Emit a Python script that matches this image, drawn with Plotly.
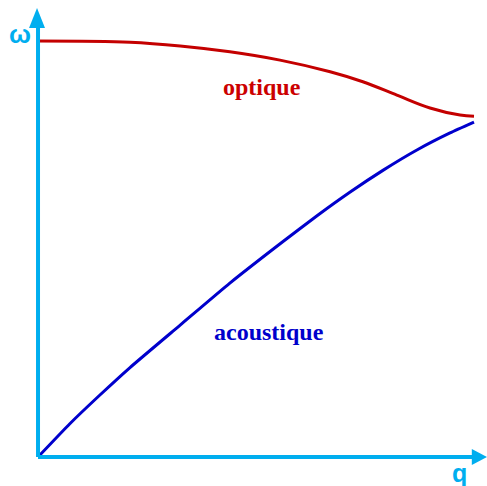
import plotly.graph_objects as go

# dispersion curves (q and omega normalised to 0..1)
q_optique = [0.0, 0.211, 0.326, 0.440, 0.555, 0.670, 0.745, 0.823, 0.899, 0.968, 1.0]
w_optique = [1.0, 0.997, 0.988, 0.974, 0.954, 0.926, 0.902, 0.870, 0.839, 0.822, 0.819]

q_acoustique = [0.0, 0.073, 0.142, 0.211, 0.326, 0.440, 0.562, 0.640, 0.716,
                0.791, 0.869, 0.945, 1.0]
w_acoustique = [0.0, 0.080, 0.149, 0.215, 0.317, 0.418, 0.518, 0.580, 0.637,
                0.689, 0.738, 0.779, 0.805]

AXIS_BLUE = '#00AEEF'
RED = '#C40000'
BLUE = '#0000CC'

fig = go.Figure()

fig.add_trace(go.Scatter(
    x=q_optique, y=w_optique, mode='lines',
    line=dict(color=RED, width=3, shape='spline', smoothing=1.0),
    hoverinfo='skip'
))
fig.add_trace(go.Scatter(
    x=q_acoustique, y=w_acoustique, mode='lines',
    line=dict(color=BLUE, width=3, shape='spline', smoothing=0.5),
    hoverinfo='skip'
))

# axes drawn as lines with triangular heads
fig.add_shape(type='line', x0=0, y0=0, x1=0, y1=1.035,
              line=dict(color=AXIS_BLUE, width=4))
fig.add_shape(type='line', x0=0, y0=0, x1=0.997, y1=0,
              line=dict(color=AXIS_BLUE, width=4))
fig.add_shape(type='path', path='M -0.0206 1.031 L 0.0160 1.031 L -0.0023 1.0793 Z',
              fillcolor=AXIS_BLUE, line=dict(width=0))
fig.add_shape(type='path', path='M 0.995 0.019 L 0.995 -0.019 L 1.0298 0 Z',
              fillcolor=AXIS_BLUE, line=dict(width=0))

# labels
fig.add_annotation(x=-0.041, y=1.018, text='<b>ω</b>', showarrow=False,
                   font=dict(family='Liberation Sans', size=26, color=AXIS_BLUE))
fig.add_annotation(x=0.966, y=-0.038, text='<b>q</b>', showarrow=False,
                   font=dict(family='Liberation Sans', size=25, color=AXIS_BLUE))
fig.add_annotation(x=0.514, y=0.889, text='<b>optique</b>', showarrow=False,
                   font=dict(family='Liberation Serif', size=24, color='#CC0000'))
fig.add_annotation(x=0.530, y=0.300, text='<b>acoustique</b>', showarrow=False,
                   font=dict(family='Liberation Serif', size=24, color=BLUE))

fig.update_layout(
    width=487, height=486,
    margin=dict(l=0, r=0, t=0, b=0),
    paper_bgcolor='white', plot_bgcolor='white',
    showlegend=False,
    xaxis=dict(range=[-0.0872, 1.0298], visible=False, fixedrange=True),
    yaxis=dict(range=[-0.0697, 1.0986], visible=False, fixedrange=True),
)

# drop the default body margin so the figure sits at the window's corner
fig.write_html("out.html", config={'displayModeBar': False},
               post_script="document.body.style.margin='0';")
